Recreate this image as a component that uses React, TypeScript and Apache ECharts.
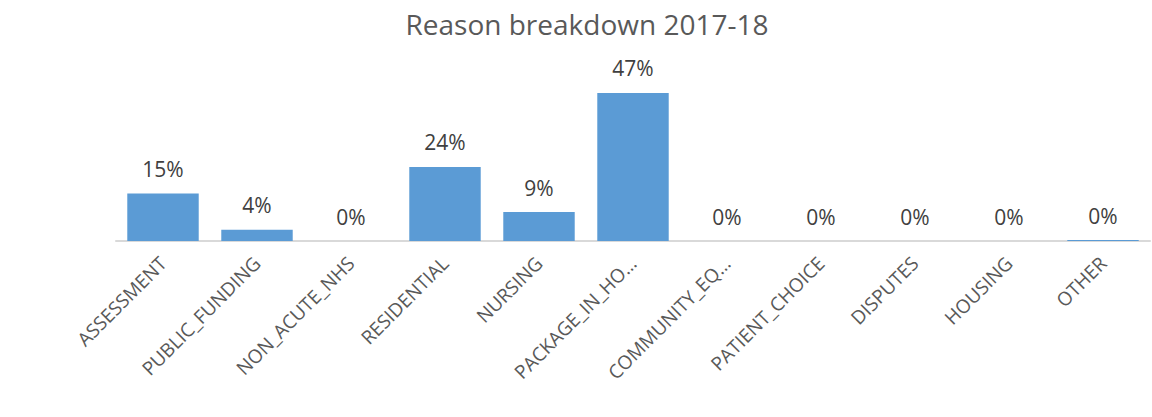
import React, { useEffect, useRef } from "react";
import * as echarts from "echarts";

const titleText = "Reason breakdown 2017-18";
const categories = [
  "ASSESSMENT",
  "PUBLIC_FUNDING",
  "NON_ACUTE_NHS",
  "RESIDENTIAL",
  "NURSING",
  "PACKAGE_IN_HO…",
  "COMMUNITY_EQ…",
  "PATIENT_CHOICE",
  "DISPUTES",
  "HOUSING",
  "OTHER",
];
const values = [15.1, 3.6, 0, 23.5, 9.2, 47.0, 0, 0, 0, 0, 0.3];

export default function App() {
  const ref = useRef<HTMLDivElement>(null);
  useEffect(() => {
    if (!ref.current) return;
    const chart = echarts.init(ref.current, null, { renderer: "svg" });
    chart.setOption({
      animation: false,
      backgroundColor: "#ffffff",
      title: {
        text: titleText,
        left: 582,
        textAlign: "center",
        top: 5,
        textStyle: {
          fontFamily: "Open Sans",
          fontSize: 28,
          fontWeight: "normal",
          color: "#595959",
        },
      },
      grid: { left: 116, right: 2, top: 83.5, bottom: 176, containLabel: false },
      xAxis: {
        type: "category",
        data: categories,
        axisLine: { show: true, lineStyle: { color: "#d9d9d9", width: 2 } },
        axisTick: { show: false },
        axisLabel: {
          rotate: 45,
          interval: 0,
          margin: 19,
          fontFamily: "Open Sans",
          fontSize: 19,
          color: "#595959",
        },
      },
      yAxis: {
        type: "value",
        min: 0,
        max: 50,
        show: false,
        splitLine: { show: false },
      },
      series: [
        {
          type: "bar",
          data: values,
          barCategoryGap: "24%",
          itemStyle: { color: "#5b9bd5" },
          label: {
            show: true,
            position: "top",
            distance: 14,
            fontFamily: "Open Sans",
            fontSize: 21,
            color: "#404040",
            formatter: (p: any) => Math.round(p.value) + "%",
          },
        },
      ],
    });
    return () => chart.dispose();
  }, []);
  return (
    <div
      ref={ref}
      style={{ position: "fixed", left: 0, top: 0, width: 1152, height: 417 }}
    />
  );
}
